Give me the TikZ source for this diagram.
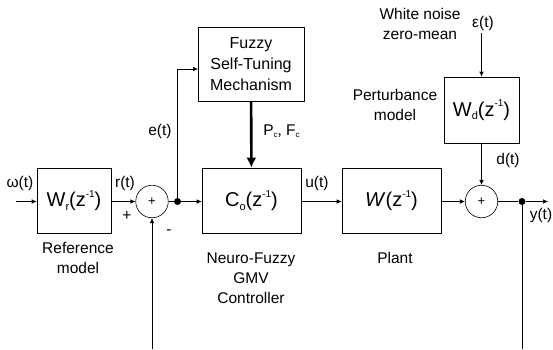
\documentclass[tikz,border=0pt]{standalone}
\usepackage{fontspec}
\setmainfont{Liberation Sans}
\usetikzlibrary{arrows.meta}
\newcommand{\sbs}[1]{\raisebox{-0.35ex}{\fontsize{11}{11}\selectfont #1}}
\newcommand{\sps}[1]{\raisebox{0.9ex}{\fontsize{10}{10}\selectfont #1}}
\newcommand{\lsb}[1]{\raisebox{-0.3ex}{\fontsize{8}{8}\selectfont #1}}
\begin{document}
\begin{tikzpicture}[x=1pt,y=-1pt,
  line width=0.6pt,
  blk/.style={draw, inner sep=0pt, font=\fontsize{20}{22}\selectfont},
  sumn/.style={draw, circle, minimum size=32.5pt, inner sep=0pt, font=\fontsize{13}{13}\selectfont},
  dotn/.style={fill, circle, minimum size=7pt, inner sep=0pt},
  lbl/.style={inner sep=0pt, align=center, font=\fontsize{15.5}{20}\selectfont},
  arr/.style={-{Latex[length=5pt,width=4.5pt]}},
  thk/.style={line width=2.6pt,-{Latex[length=10pt,width=10pt]}}]
\useasboundingbox (0,0) rectangle (553,349);
% blocks
\node[blk, minimum width=74pt, minimum height=65pt] (wr) at (74,200.5) {W\sbs{r}(z\sps{-1})};
\node[blk, minimum width=99pt, minimum height=65pt] (c0) at (251.5,200.5) {C\sbs{o}(z\sps{-1})};
\node[blk, minimum width=99pt, minimum height=65pt] (w) at (391.5,200.5) {\textit{W}(z\sps{-1})};
\node[blk, minimum width=106pt, minimum height=74pt, align=center, font=\fontsize{16}{21}\selectfont] (fz) at (251,64) {Fuzzy\\Self-Tuning\\Mechanism};
\node[blk, minimum width=75pt, minimum height=66pt] (wd) at (481.5,110) {W\sbs{d}(z\sps{-1})};
% summing junctions and dots
\node[sumn] (s1) at (152,201.5) {+};
\node[sumn] (s2) at (481.5,201.5) {+};
\node[dotn] (d1) at (177.5,201.5) {};
\node[dotn] (d2) at (522,201.5) {};
% free ends
\coordinate (in) at (16,201.5);
\coordinate (out) at (548,201.5);
\coordinate (fb1) at (152,349);
\coordinate (fb2) at (522,349);
\coordinate (eps) at (481.5,33);
\coordinate (fin) at (198,69);
% connectors
\draw[arr] (in) -- (wr.west |- in);
\draw[arr] (wr.east |- s1) -- (s1);
\draw (s1) -- (d1);
\draw[arr] (d1) -- (c0.west |- d1);
\draw[arr] (d1.center) |- (fin);
\draw[thk] (fz) -- (c0);
\draw[arr] (c0.east |- d1) -- (w.west |- d1);
\draw[arr] (w.east |- s2) -- (s2);
\draw (s2) -- (d2);
\draw[arr] (d2) -- (out);
\draw (d2.center) -- (fb2);
\draw[arr] (fb1) -- (s1);
\draw[arr] (eps) -- (wd);
\draw[arr] (wd) -- (s2);
% labels
\node[lbl] (lw) at (20,183) {ω(t)};
\node[lbl] (lr) at (125,183) {r(t)};
\node[lbl] (lplus) at (127,216) {+};
\node[lbl] (lminus) at (169,232) {-};
\node[lbl] (le) at (160,131) {e(t)};
\node[lbl, anchor=west] (lpf) at (263,131) {P\lsb{c}, F\lsb{c}};
\node[lbl] (lu) at (317,183) {u(t)};
\node[lbl] (ly) at (541,215) {y(t)};
\node[lbl] (ld) at (508,160) {d(t)};
\node[lbl] (leps) at (483,23) {ε(t)};
\node[lbl] (lwn) at (420,24) {White noise\\zero-mean};
\node[lbl] (lpm) at (395,105) {Perturbance\\model};
\node[lbl] (lref) at (78,258) {Reference\\model};
\node[lbl] (lnf) at (251,278) {Neuro-Fuzzy\\GMV\\Controller};
\node[lbl] (lpl) at (395,258) {Plant};
\end{tikzpicture}
\end{document}
